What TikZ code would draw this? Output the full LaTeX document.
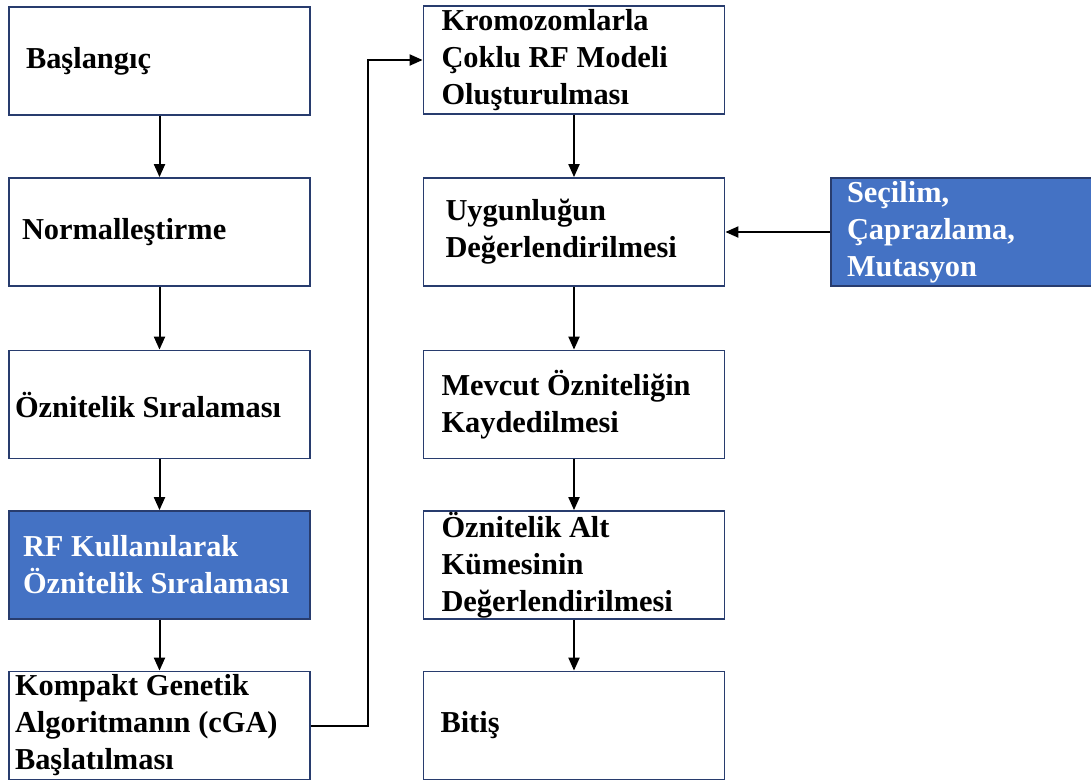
\documentclass[tikz,border=0pt]{standalone}
\usepackage{fontspec}
\setmainfont{Liberation Serif}
\usetikzlibrary{arrows.meta}
\definecolor{boxline}{RGB}{40,60,110}
\definecolor{boxblue}{RGB}{68,114,196}
\tikzset{
  stepbox/.style={draw=boxline, line width=0.9pt, minimum height=54pt, inner ysep=0pt,
    align=flush left, font=\bfseries\fontsize{15.2}{18.5}\selectfont},
  inset/.code={\pgfmathsetlengthmacro\tw{150.5pt-2*#1}%
    \edef\x{\noexpand\tikzset{inner xsep=#1,text width=\tw}}\x},
  bluebox/.style={stepbox, fill=boxblue, text=white},
  arr/.style={line width=1pt, -{Triangle[length=6.5pt,width=5.5pt]}}
}
\begin{document}
\begin{tikzpicture}[x=0.5pt,y=-0.5pt]
  \useasboundingbox (0,0) rectangle (1091,783);
  % left column
  \node[stepbox, inset=8.5pt] (bas) at (159.5,61) {Başlangıç};
  \node[stepbox, inset=6.5pt] (norm) at (159.5,232) {Normalleştirme};
  \node[stepbox, inset=3pt] (sira) at (159.5,404.5) {Öznitelik Sıralaması};
  \node[bluebox, inset=7pt] (rfsira) at (159.5,565) {RF Kullanılarak\\Öznitelik Sıralaması};
  \node[stepbox, inset=3pt] (cga) at (159.5,725.5) {Kompakt Genetik\\Algoritmanın (cGA)\\Başlatılması};
  % right column
  \node[stepbox, inset=9pt] (krom) at (574,60) {Kromozomlarla\\Çoklu RF Modeli\\Oluşturulması};
  \node[stepbox, inset=11pt] (uyg) at (574,232) {Uygunluğun\\Değerlendirilmesi};
  \node[stepbox, inset=9pt] (kayit) at (574,404.5) {Mevcut Özniteliğin\\Kaydedilmesi};
  \node[stepbox, inset=9pt] (altk) at (574,565) {Öznitelik Alt\\Kümesinin\\Değerlendirilmesi};
  \node[stepbox, inset=8.5pt] (bitis) at (574,725.5) {Bitiş};
  \node[bluebox, inner xsep=8pt, text width=116.5pt] (secim) at (963.5,232) {Seçilim,\\Çaprazlama,\\Mutasyon};
  % connectors
  \foreach \a/\b in {bas/norm,norm/sira,sira/rfsira,rfsira/cga,krom/uyg,uyg/kayit,kayit/altk,altk/bitis}
    \draw[arr] (\a) -- (\b);
  \draw[arr] (cga.east) -- ++(57,0) |- (krom.west);
  \draw[arr] (secim) -- (uyg);
\end{tikzpicture}
\end{document}
